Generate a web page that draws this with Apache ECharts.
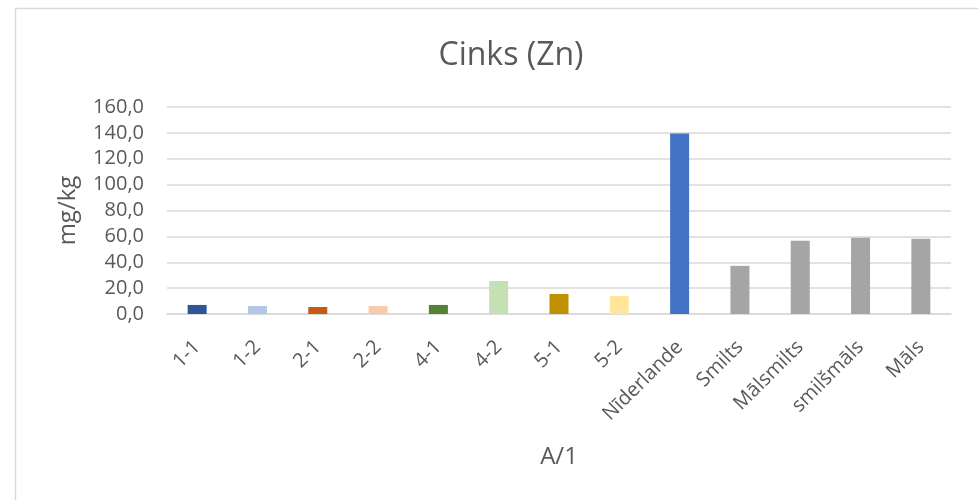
<!DOCTYPE html>
<html>
<head>
<meta charset="utf-8">
<script src="https://cdn.jsdelivr.net/npm/echarts@6/dist/echarts.min.js"></script>
<style>
  html, body { margin: 0; padding: 0; background: #fff; }
  #chart { width: 978px; height: 500px; }
</style>
</head>
<body>
<div id="chart"></div>
<script>
// Cinks (Zn) column chart

const categories = ['1-1', '1-2', '2-1', '2-2', '4-1', '4-2', '5-1', '5-2', 'Nīderlande', 'Smilts', 'Mālsmilts', 'smilšmāls', 'Māls'];
const values = [7.0, 6.2, 5.4, 6.2, 7.0, 25.5, 15.5, 13.9, 139.5, 37.2, 56.6, 58.9, 58.1];
const barColors = ['#2F5597', '#B4C7E7', '#C55A11', '#F8CBAD', '#548235', '#C5E0B4', '#BF9000', '#FFE699', '#4472C4', '#A5A5A5', '#A5A5A5', '#A5A5A5', '#A5A5A5'];

const font = 'Open Sans, Liberation Sans, sans-serif';
const textColor = '#595959';

const chart = echarts.init(document.getElementById('chart'));

chart.setOption({
    backgroundColor: '#fff',
    animation: false,
    title: {
        text: 'Cinks (Zn)',
        left: 506,
        top: 35,
        textAlign: 'center',
        textStyle: { color: textColor, fontSize: 32, fontWeight: 'normal', fontFamily: font }
    },
    graphic: [{
        type: 'rect',
        shape: { x: 15.5, y: 8.5, width: 1000, height: 600 },
        style: { fill: 'none', stroke: '#D9D9D9', lineWidth: 1.5 },
        silent: true
    }],
    grid: { left: 167, right: 27, top: 107, bottom: 186 },
    xAxis: {
        type: 'category',
        data: categories,
        name: 'A/1',
        nameLocation: 'middle',
        nameGap: 131,
        nameTextStyle: { color: textColor, fontSize: 24, fontFamily: font },
        axisLine: { lineStyle: { color: '#D9D9D9', width: 1.5 } },
        axisTick: { show: false },
        axisLabel: {
            rotate: 45,
            margin: 30,
            interval: 0,
            color: textColor,
            fontSize: 20,
            fontFamily: font
        }
    },
    yAxis: {
        type: 'value',
        min: 0,
        max: 160,
        interval: 20,
        name: 'mg/kg',
        nameLocation: 'middle',
        nameGap: 87,
        nameRotate: 90,
        nameTextStyle: { color: textColor, fontSize: 24, fontFamily: font },
        axisLine: { show: false },
        axisTick: { show: false },
        splitLine: { lineStyle: { color: '#D9D9D9', width: 1.5 } },
        axisLabel: {
            margin: 23,
            color: textColor,
            fontSize: 20,
            fontFamily: font,
            formatter: v => v.toFixed(1).replace('.', ',')
        }
    },
    series: [{
        type: 'bar',
        barWidth: 19,
        data: values.map((v, i) => ({ value: v, itemStyle: { color: barColors[i] } }))
    }]
});
</script>
</body>
</html>
